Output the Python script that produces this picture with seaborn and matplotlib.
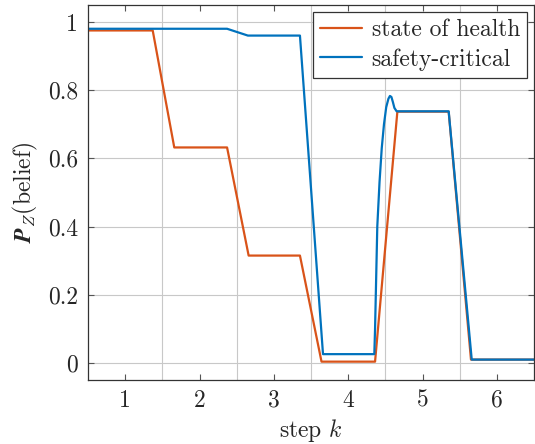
import matplotlib
matplotlib.use("Agg")
import matplotlib.pyplot as plt
import seaborn as sns
import pandas as pd
from matplotlib.ticker import FixedLocator

# state of health belief (orange)
soh_step = [0.5, 1.37, 1.66, 2.37, 2.66, 3.35, 3.64, 4.36, 4.66, 5.35, 5.65, 6.5]
soh_belief = [0.975, 0.975, 0.632, 0.632, 0.315, 0.315, 0.004, 0.004, 0.737, 0.737, 0.01, 0.01]

# safety-critical belief (blue)
sc_step = [0.5, 2.37, 2.65, 3.35, 3.66, 4.35, 4.36, 4.37, 4.39, 4.42, 4.45, 4.48, 4.51,
           4.54, 4.56, 4.58, 4.60, 4.62, 4.65, 5.35, 5.66, 6.5]
sc_belief = [0.98, 0.98, 0.96, 0.96, 0.026, 0.026, 0.1, 0.2, 0.4, 0.53, 0.63, 0.70, 0.75,
             0.775, 0.783, 0.78, 0.765, 0.748, 0.738, 0.738, 0.01, 0.01]

x_ticks = [1, 2, 3, 4, 5, 6]
x_grid = [1.5, 2.5, 3.5, 4.5, 5.5]
y_ticks = [0, 0.2, 0.4, 0.6, 0.8, 1.0]
y_labels = ["0", "0.2", "0.4", "0.6", "0.8", "1"]

sns.set_theme(style="white")
plt.rcParams["font.family"] = ["serif"]
plt.rcParams["font.serif"] = ["cmr10", "DejaVu Serif"]
plt.rcParams["mathtext.fontset"] = "cm"
plt.rcParams["axes.formatter.use_mathtext"] = True

soh = pd.DataFrame({"step": soh_step, "belief": soh_belief})
sc = pd.DataFrame({"step": sc_step, "belief": sc_belief})

fig = plt.figure(figsize=(5.35, 4.44), dpi=100)
ax = fig.add_axes([0.1645, 0.144, 0.834, 0.845])

sns.lineplot(data=soh, x="step", y="belief", ax=ax, color="#D95319", lw=1.6,
             sort=False, estimator=None, label="state of health")
sns.lineplot(data=sc, x="step", y="belief", ax=ax, color="#0072BD", lw=1.6,
             sort=False, estimator=None, label="safety-critical")

ax.set_xlim(0.5, 6.5)
ax.set_ylim(-0.05, 1.05)
ax.xaxis.set_major_locator(FixedLocator(x_ticks))
ax.xaxis.set_minor_locator(FixedLocator(x_grid))
ax.set_xticklabels([str(v) for v in x_ticks])
ax.set_yticks(y_ticks)
ax.set_yticklabels(y_labels)

ax.grid(False)
ax.grid(True, which="minor", axis="x", color="#c8c8c8", lw=0.8)
ax.grid(True, which="major", axis="y", color="#c8c8c8", lw=0.8)
ax.set_axisbelow(True)

ax.tick_params(which="major", direction="in", length=4, width=0.8, color="#555555",
               top=True, right=True, bottom=True, left=True, labelsize=17, pad=7)
ax.tick_params(which="minor", length=0)
for s in ax.spines.values():
    s.set_color("#333333")
    s.set_linewidth(0.9)

ax.set_xlabel(r"step $k$", fontsize=17, labelpad=4)
ax.set_ylabel(r"$\mathbfit{P}_{Z}$(belief)", fontsize=17, labelpad=6)

leg = ax.legend(loc="upper right", fontsize=17, frameon=True, fancybox=False,
                edgecolor="#333333", framealpha=1, borderaxespad=0.3,
                handlelength=1.8, handletextpad=0.4, borderpad=0.3, labelspacing=0.3)
leg.get_frame().set_linewidth(0.9)

fig.savefig("out.png", dpi=100)
